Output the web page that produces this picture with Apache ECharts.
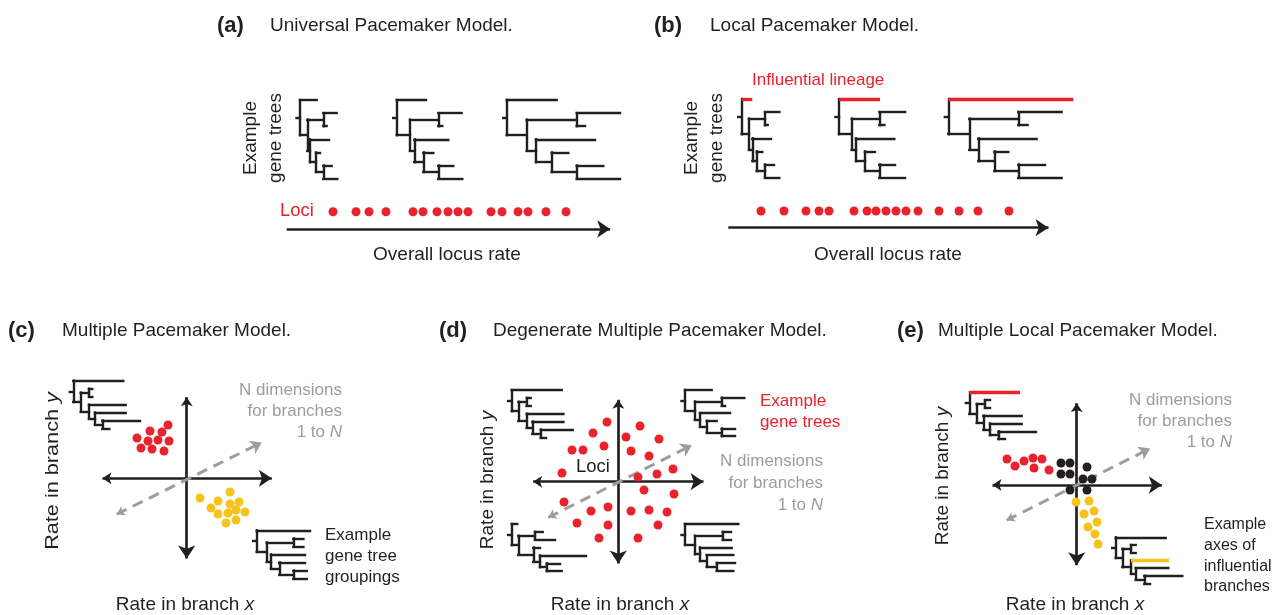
<!DOCTYPE html>
<html>
<head>
<meta charset="utf-8">
<script src="https://cdn.jsdelivr.net/npm/echarts@6/dist/echarts.min.js"></script>
<style>
  html, body { margin: 0; background: #fff; }
  #chart { width: 1283px; height: 615px; }
</style>
</head>
<body>
<div id="chart"></div>
<script>
// ---- data ----
// (a) / (b): overall rate of each locus
const lociRatesA = [333, 356, 369, 386, 413, 423, 437, 448, 458, 468, 491, 502, 518, 528, 546, 566];
const lociRatesB = [761, 784, 806, 819, 829, 854, 867, 876, 886, 896, 906, 918, 939, 959, 978, 1009];

// (c) two groups of loci
const redGroupC = [[168, 425], [150, 431], [162, 432], [137, 438], [148, 441], [158, 440], [169, 441], [141, 448], [152, 449], [164, 451]];
const yellowGroupC = [[230, 492], [200, 498], [218, 501], [239, 502], [230, 504], [211, 508], [236, 510], [245, 512], [218, 514], [228, 513], [226, 523], [236, 520]];

// (d) loci spread in every direction
const lociD = [[607, 422], [640, 426], [593, 433], [626, 437], [659, 439], [604, 446], [572, 450], [583, 450], [631, 451], [649, 456],
  [673, 469], [562, 473], [657, 474], [638, 477], [644, 490], [674, 494], [564, 502], [591, 511], [608, 507], [631, 511],
  [649, 510], [667, 512], [577, 523], [608, 525], [658, 525], [599, 538], [638, 538]];

// (e) loci along two influential axes plus a central cloud
const redLociE = [[1007, 459], [1015, 466], [1024, 461], [1033, 458], [1042, 459], [1034, 468], [1049, 470]];
const blackLociE = [[1061, 463], [1070, 463], [1087, 467], [1061, 474], [1070, 474], [1083, 479], [1092, 479], [1070, 490], [1087, 490]];
const yellowLociE = [[1076, 502], [1089, 501], [1094, 511], [1084, 514], [1097, 522], [1088, 527], [1095, 534], [1098, 544]];

// gene trees, branch lengths in order [A, N1, BC, B, C, N2, D, N3, E, FG, F, G]
// topology: (A, ((B, C), (D, (E, (F, G)))))
const treeA1 = [16.7, 7.3, 16, 13.3, 3.3, 2.7, 19, 6, 4, 7.3, 8.3, 14];
const treeA2 = [29.3, 13.3, 28.3, 23.3, 4, 4.3, 34, 9, 10, 15, 15, 24];
const treeA3 = [50, 20, 50, 43.3, 8.3, 9.3, 59, 15.7, 16.6, 25, 26.6, 43.3];
const treeB1 = [10.6, 7.3, 16, 14.3, 2.7, 3.3, 18.7, 4.4, 5.6, 8.3, 9, 14.3];
const treeB2 = [41, 12.7, 27.7, 25.7, 5, 4.3, 38.3, 9, 10, 14.3, 15.7, 25.7];
const treeB3 = [125, 21, 49, 43.3, 9.3, 9, 58.3, 16, 14, 24, 26.7, 43.3];
const treeC1 = [50, 7.4, 8.3, 3.3, 3.3, 8.3, 36.7, 6, 30.7, 7.3, 37.7, 7];
const treeC2 = [53.3, 10, 26.7, 10, 10, 4.3, 34, 8.3, 25.7, 14, 13.4, 13.4];
const treeD1 = [50, 6.7, 8.3, 4, 4, 8.3, 36.7, 5.7, 31, 8.3, 32, 5.3];
const treeD2 = [26.7, 10, 26.7, 22.6, 3.3, 5, 30, 6.7, 10, 15, 13.3, 13.3];
const treeD3 = [5.6, 6.6, 16.7, 7.7, 20, 15, 6.7, 6.7, 46, 6.7, 13.3, 15];
const treeD4 = [53.3, 10, 27.7, 8.3, 8.3, 5, 31.7, 6.7, 26.6, 10, 18.3, 16.6];
const treeE1 = [50.7, 7.4, 8.3, 5, 5, 6.6, 38.4, 6.7, 31.7, 8.3, 37.7, 6.7];
const treeE2 = [50, 6.6, 8.7, 4.7, 4.7, 8.7, 38, 4.7, 32.6, 8.6, 38, 5.7];

// ---- styles ----
const FONT = '"Liberation Sans", Arial, Helvetica, sans-serif';
const INK = '#231f20';
const RED = '#e9222b';
const YELLOW = '#f6c31c';
const GREY = '#9a9ea1';

// where each tree sits: root x, first leaf y, leaf spacing, coloured leaf
const treePlacements = [
  { len: treeA1, x: 300, y: 100, dy: 13.1 },
  { len: treeA2, x: 396.7, y: 100, dy: 13.1 },
  { len: treeA3, x: 506.7, y: 100, dy: 13.1 },
  { len: treeB1, x: 741.7, y: 99, dy: 13.1, mark: { A: RED } },
  { len: treeB2, x: 839, y: 99, dy: 13.1, mark: { A: RED } },
  { len: treeB3, x: 948.3, y: 99, dy: 13.1, mark: { A: RED } },
  { len: treeC1, x: 73.3, y: 380.7, dy: 7.95 },
  { len: treeC2, x: 256.7, y: 530.3, dy: 8.05 },
  { len: treeD1, x: 511.7, y: 390, dy: 7.9 },
  { len: treeD2, x: 685, y: 390, dy: 7.7 },
  { len: treeD3, x: 511.7, y: 524, dy: 7.85 },
  { len: treeD4, x: 685, y: 524, dy: 7.8 },
  { len: treeE1, x: 969.3, y: 392.3, dy: 7.8, mark: { A: RED } },
  { len: treeE2, x: 1115.7, y: 537.3, dy: 7.7, mark: { D: YELLOW } }
];

function buildTree(L) {
  const leaf = (len, id) => ({ len, id });
  return { len: 0, kids: [
    leaf(L[0], 'A'),
    { len: L[1], kids: [
      { len: L[2], kids: [leaf(L[3], 'B'), leaf(L[4], 'C')] },
      { len: L[5], kids: [leaf(L[6], 'D'),
        { len: L[7], kids: [leaf(L[8], 'E'),
          { len: L[9], kids: [leaf(L[10], 'F'), leaf(L[11], 'G')] }] }] }] }] };
}

// rectangular cladogram -> list of segments
function treeSegments(p) {
  const segs = [];
  const mark = p.mark || {};
  let leafNo = 0;
  const root = buildTree(p.len);
  (function place(node, px) {
    node.x = px + node.len;
    if (!node.kids) {
      node.y = p.y + p.dy * leafNo++;
    } else {
      node.kids.forEach(k => place(k, node.x));
      const k0 = node.kids[0], k1 = node.kids[node.kids.length - 1];
      node.y = (k0.y + k1.y) / 2;
      segs.push({ coords: [[node.x, k0.y], [node.x, k1.y]], color: INK });
    }
    if (node.len) segs.push({ coords: [[px, node.y], [node.x, node.y]], color: mark[node.id] || INK });
  })(root, p.x);
  segs.push({ coords: [[p.x - 3.5, root.y], [p.x, root.y]], color: INK });
  return segs;
}

const allSegs = treePlacements.flatMap(treeSegments);
const inkSegs = allSegs.filter(s => s.color === INK).map(s => ({ coords: s.coords }));
const colourSegs = allSegs.filter(s => s.color !== INK).map(s => ({ coords: s.coords, lineStyle: { color: s.color } }));

// arrows: tips given, pulled back so the arrow symbol tip lands on them
function arrow(x1, y1, x2, y2, back1, back2) {
  const d = Math.hypot(x2 - x1, y2 - y1), ux = (x2 - x1) / d, uy = (y2 - y1) / d;
  return { coords: [[x1 + ux * back1, y1 + uy * back1], [x2 - ux * back2, y2 - uy * back2]] };
}
const HEAD = 6.5, DHEAD = 5.5;
const singleArrows = [arrow(286.7, 229, 616.7, 229, 0, HEAD), arrow(728.3, 227.7, 1055, 227.7, 0, HEAD)];
const doubleArrows = [
  arrow(96, 478.3, 278.3, 478.3, HEAD, HEAD), arrow(186.7, 390.7, 186.7, 565, HEAD, HEAD),
  arrow(526.7, 481.7, 710, 481.7, HEAD, HEAD), arrow(618.3, 393.3, 618.3, 570, HEAD, HEAD),
  arrow(986, 485, 1168.3, 485, HEAD, HEAD), arrow(1076.7, 396.7, 1076.7, 571.7, HEAD, HEAD)
];
const dashedArrows = [
  arrow(111.7, 516.7, 266.7, 440, DHEAD, DHEAD),
  arrow(543.3, 520, 696.7, 442.7, DHEAD, DHEAD),
  arrow(1001.7, 522.7, 1155, 446, DHEAD, DHEAD)
];

// ---- text ----
const ital = size => ({ font: `italic ${size}px ${FONT}` });
function txt(text, x, y, o = {}) {
  const size = o.size || 19;
  return {
    type: 'text', x, y, rotation: o.rot || 0, scaleX: o.sx || 1, silent: true,
    style: {
      text, x: 0, y: 0,
      font: `${o.bold ? 'bold ' : ''}${size}px ${FONT}`,
      fill: o.fill || INK,
      align: o.align || 'left', verticalAlign: 'middle',
      lineHeight: o.lh || size * 1.2,
      rich: { i: ital(size) }
    }
  };
}
const UP = Math.PI / 2;
const textEls = [
  txt('(a)', 217, 26, { bold: true, size: 22 }), txt('Universal Pacemaker Model.', 270, 26),
  txt('(b)', 654, 26, { bold: true, size: 22 }), txt('Local Pacemaker Model.', 710, 26),
  txt('(c)', 8, 331, { bold: true, size: 22 }), txt('Multiple Pacemaker Model.', 62, 331),
  txt('(d)', 439, 331, { bold: true, size: 22 }), txt('Degenerate Multiple Pacemaker Model.', 493, 331),
  txt('(e)', 897, 331, { bold: true, size: 22 }), txt('Multiple Local Pacemaker Model.', 938, 331),

  txt('Example\ngene trees', 263, 138, { rot: UP, align: 'center', lh: 25 }),
  txt('Loci', 280, 211, { fill: RED, size: 18.5 }),
  txt('Overall locus rate', 447, 255, { align: 'center' }),

  txt('Influential lineage', 752, 80, { fill: RED, size: 17 }),
  txt('Example\ngene trees', 704, 138, { rot: UP, align: 'center', lh: 25 }),
  txt('Overall locus rate', 888, 255, { align: 'center' }),

  txt('Rate in branch {i|y}', 53, 471, { rot: UP, align: 'center', sx: 1.14 }),
  txt('Rate in branch {i|x}', 185, 605, { align: 'center' }),
  txt('N dimensions\nfor branches\n1 to {i|N}', 342, 411, { fill: GREY, size: 17, align: 'right', lh: 21 }),
  txt('Example\ngene tree\ngroupings', 325, 556, { size: 17, lh: 21 }),

  txt('Rate in branch {i|y}', 488, 480, { rot: UP, align: 'center' }),
  txt('Rate in branch {i|x}', 620, 605, { align: 'center' }),
  txt('Loci', 593, 467, { size: 18.5, align: 'center' }),
  txt('Example\ngene trees', 760, 412, { fill: RED, size: 17, lh: 21 }),
  txt('N dimensions\nfor branches\n1 to {i|N}', 823, 483, { fill: GREY, size: 17, align: 'right', lh: 22 }),

  txt('Rate in branch {i|y}', 943, 476, { rot: UP, align: 'center' }),
  txt('Rate in branch {i|x}', 1075, 605, { align: 'center' }),
  txt('N dimensions\nfor branches\n1 to {i|N}', 1232, 421, { fill: GREY, size: 17, align: 'right', lh: 21 }),
  txt('Example\naxes of\ninfluential\nbranches', 1204, 556, { size: 16, lh: 20.7 })
];

// ---- chart ----
const chart = echarts.init(document.getElementById('chart'), null, { renderer: 'canvas' });

const dots = (data, color) => ({
  type: 'scatter', data, symbol: 'circle', symbolSize: 9, silent: true,
  itemStyle: { color, opacity: 1 }
});

const option = {
  animation: false,
  backgroundColor: '#fff',
  grid: { left: 0, top: 0, right: 0, bottom: 0 },
  xAxis: { type: 'value', min: 0, max: 1283, show: false },
  yAxis: { type: 'value', min: 0, max: 615, inverse: true, show: false },
  graphic: { elements: textEls },
  series: [
    {
      type: 'lines', coordinateSystem: 'cartesian2d', silent: true, symbol: 'none',
      lineStyle: { color: INK, width: 2.4, opacity: 1, cap: 'square' },
      data: inkSegs
    },
    {
      type: 'lines', coordinateSystem: 'cartesian2d', silent: true, symbol: 'none',
      lineStyle: { width: 3.3, opacity: 1, cap: 'butt' },
      data: colourSegs
    },
    {
      type: 'lines', coordinateSystem: 'cartesian2d', silent: true,
      symbol: ['none', 'arrow'], symbolSize: [9, 13],
      lineStyle: { color: INK, width: 2.7, opacity: 1 },
      data: singleArrows
    },
    {
      type: 'lines', coordinateSystem: 'cartesian2d', silent: true,
      symbol: ['arrow', 'arrow'], symbolSize: [9, 13],
      lineStyle: { color: INK, width: 2.7, opacity: 1 },
      data: doubleArrows
    },
    {
      type: 'lines', coordinateSystem: 'cartesian2d', silent: true,
      symbol: ['arrow', 'arrow'], symbolSize: [8, 11],
      lineStyle: { color: GREY, width: 3, opacity: 1, type: [11, 7] },
      data: dashedArrows
    },
    dots(lociRatesA.map(x => [x, 211.7]), RED),
    dots(lociRatesB.map(x => [x, 211]), RED),
    dots(redGroupC, RED),
    dots(yellowGroupC, YELLOW),
    dots(lociD, RED),
    dots(redLociE, RED),
    dots(blackLociE, INK),
    dots(yellowLociE, YELLOW)
  ]
};

chart.setOption(option);
window.addEventListener('resize', () => chart.resize());
</script>
</body>
</html>
